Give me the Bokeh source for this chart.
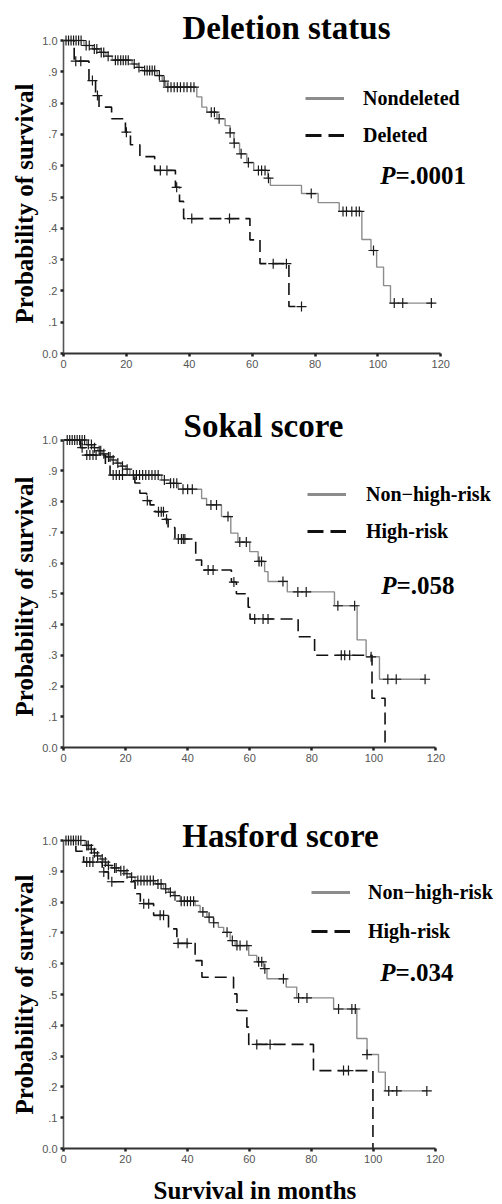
import numpy as np
from bokeh.plotting import figure
from bokeh.models import Range1d, FixedTicker, Legend, LegendItem, Label, Title
from bokeh.layouts import column
from bokeh.embed import file_html
from bokeh.resources import INLINE

# ---------------- data ----------------
x_ticks = [0, 20, 40, 60, 80, 100, 120]
x_tick_labels = ["0", "20", "40", "60", "80", "100", "120"]
y_ticks = [0.0, 0.1, 0.2, 0.3, 0.4, 0.5, 0.6, 0.7, 0.8, 0.9, 1.0]
y_tick_labels = ["0.0", ".1", ".2", ".3", ".4", ".5", ".6", ".7", ".8", ".9", "1.0"]

titles = ["Deletion status", "Sokal score", "Hasford score"]
group_labels = [["Nondeleted", "Deleted"],
                ["Non\u2212high-risk", "High-risk"],
                ["Non\u2212high-risk", "High-risk"]]
p_values = ["=.0001", "=.058", "=.034"]
y_label = "Probability of survival"
x_label = "Survival in months"

# Deletion status - Nondeleted (event times, survival after event)
del_a_t = [0, 6.5, 9.2, 11.5, 13.5, 15.5, 21.8, 23.4, 25.0, 29.8, 31.4, 32.5, 42.4, 44.0, 45.6,
           48.8, 51.4, 53.0, 54.2, 56.0, 58.3, 60.5, 65.0, 65.8, 75.7, 81.0, 87.7, 94.9, 97.8,
           99.6, 101.8, 104.0, 117.5]
del_a_s = [1.0, 0.984, 0.973, 0.962, 0.950, 0.937, 0.925, 0.914, 0.904, 0.888, 0.870, 0.851, 0.820,
           0.787, 0.771, 0.750, 0.728, 0.705, 0.672, 0.638, 0.610, 0.585, 0.560, 0.537, 0.511, 0.482,
           0.454, 0.364, 0.329, 0.276, 0.217, 0.161, 0.161]
del_a_cens = [0.8, 1.6, 2.4, 3.2, 4.0, 4.8, 5.6, 7.2, 8.2, 9.8, 10.6, 12.0, 12.8, 14.2, 16.5, 17.3,
              18.2, 19.0, 19.8, 20.6, 22.5, 24.0, 25.8, 26.6, 27.4, 28.2, 29.0, 30.5, 32.0, 33.2,
              34.2, 35.2, 36.2, 37.2, 38.3, 39.3, 40.5, 41.5, 47.0, 48.0, 49.5, 53.0, 54.3, 56.5,
              58.8, 62.0, 63.0, 64.1, 65.2, 78.8, 88.9, 90.0, 91.7, 93.1, 94.1, 98.6, 105.2, 107.9,
              117.0]
# Deletion status - Deleted
del_b_t = [0, 3.4, 8.1, 10.2, 11.3, 15.3, 19.7, 21.3, 24.3, 29.0, 35.6, 36.9, 38.2, 59.3, 62.5,
           71.7, 75.7]
del_b_s = [1.0, 0.934, 0.872, 0.824, 0.787, 0.750, 0.707, 0.667, 0.629, 0.585, 0.531, 0.486,
           0.431, 0.363, 0.287, 0.150, 0.150]
del_b_cens = [3.9, 5.5, 9.2, 10.8, 20.0, 30.8, 32.9, 36.0, 40.8, 52.8, 66.7, 70.9, 75.7]

# Sokal score - Non-high-risk
sok_a_t = [0, 7.5, 9.5, 11.0, 12.5, 14.0, 15.5, 17.0, 18.5, 20.0, 21.4, 31.6, 34.3, 37.0, 44.5,
           46.1, 50.9, 53.9, 56.2, 60.0, 62.7, 64.8, 65.9, 72.1, 87.3, 94.6, 97.5, 101.8, 116.5]
sok_a_s = [1.0, 0.985, 0.975, 0.965, 0.955, 0.945, 0.935, 0.925, 0.915, 0.905, 0.886, 0.870,
           0.859, 0.840, 0.810, 0.789, 0.751, 0.697, 0.668, 0.637, 0.605, 0.572, 0.540, 0.506,
           0.461, 0.350, 0.295, 0.222, 0.222]
sok_a_cens = [1.2, 2.0, 2.8, 3.6, 4.4, 5.2, 6.0, 6.8, 8.0, 9.0, 10.0, 11.5, 12.0, 13.0, 14.5, 15.0,
              16.0, 17.5, 19.0, 20.5, 22.5, 23.5, 24.5, 25.5, 26.5, 27.5, 28.5, 29.5, 30.5, 32.5,
              34.5, 35.5, 36.5, 38.5, 40.0, 41.5, 47.5, 49.3, 53.0, 56.8, 58.9, 63.0, 63.8, 70.7,
              75.5, 78.2, 88.4, 93.8, 99.1, 104.5, 107.2, 116.5]
# Sokal score - High-risk
sok_b_t = [0, 5.5, 7.0, 13.5, 15.0, 23.0, 24.6, 26.8, 27.9, 29.5, 32.7, 33.7, 35.9, 42.6, 44.5,
           54.1, 55.7, 59.5, 60.1, 75.6, 80.9, 99.4, 103.6]
sok_b_s = [1.0, 0.975, 0.951, 0.920, 0.886, 0.860, 0.827, 0.803, 0.789, 0.767, 0.742, 0.715,
           0.678, 0.610, 0.577, 0.538, 0.500, 0.456, 0.418, 0.360, 0.300, 0.160, 0.0]
sok_b_cens = [6.0, 7.5, 8.5, 9.5, 10.5, 16.0, 17.0, 18.0, 19.0, 27.0, 30.6, 31.5, 32.2, 33.2,
              37.0, 38.0, 38.6, 39.1, 46.6, 48.2, 54.9, 61.6, 64.3, 65.9, 89.5, 90.6, 92.2]

# Hasford score - Non-high-risk
has_a_t = [0, 7.0, 8.6, 9.7, 10.8, 11.9, 13.0, 14.0, 15.6, 17.8, 19.9, 21.5, 23.1, 29.6, 32.3,
           33.9, 35.5, 37.7, 42.5, 44.1, 46.3, 48.4, 50.0, 51.7, 53.8, 55.4, 59.8, 62.4, 64.6,
           65.7, 71.9, 75.3, 87.2, 94.7, 98.0, 101.7, 103.9, 117.3]
has_a_s = [1.0, 0.984, 0.972, 0.960, 0.950, 0.940, 0.930, 0.919, 0.911, 0.902, 0.892, 0.881,
           0.870, 0.859, 0.843, 0.832, 0.821, 0.803, 0.789, 0.768, 0.751, 0.733, 0.718, 0.702,
           0.675, 0.659, 0.627, 0.606, 0.584, 0.551, 0.524, 0.489, 0.453, 0.357, 0.305, 0.248,
           0.187, 0.187]
has_a_cens = [0.8, 1.6, 2.4, 3.2, 4.0, 4.8, 5.6, 7.5, 8.0, 9.0, 10.0, 11.0, 12.5, 13.5, 14.5,
              16.5, 17.0, 18.5, 19.5, 20.5, 22.0, 24.0, 25.0, 26.0, 27.0, 28.0, 29.0, 30.5, 31.5,
              33.0, 34.5, 36.0, 38.0, 39.0, 40.0, 41.0, 42.0, 45.0, 47.0, 48.5, 52.8, 54.5, 56.0,
              57.0, 59.2, 63.0, 64.0, 65.0, 71.0, 75.9, 78.6, 88.8, 93.1, 94.2, 98.0, 105.0,
              107.6, 117.3]
# Hasford score - High-risk
has_b_t = [0, 4.0, 6.5, 12.5, 14.5, 23.1, 24.8, 29.1, 33.9, 36.6, 42.5, 44.7, 54.9, 56.0, 59.2,
           59.8, 80.7, 99.9]
has_b_s = [1.0, 0.965, 0.930, 0.898, 0.866, 0.827, 0.795, 0.757, 0.713, 0.666, 0.610, 0.556,
           0.502, 0.448, 0.394, 0.338, 0.253, 0.0]
has_b_cens = [7.5, 8.5, 9.5, 13.0, 15.6, 25.9, 27.5, 31.2, 32.3, 37.0, 39.9, 62.4, 66.7, 90.4,
              92.0]

# ---------------- styling ----------------
SERIF = "Liberation Serif"
SANS = "Liberation Sans"
GRAY = "#8c8c8c"
BLACK = "#111111"
FIG_W = 502


def level_at(step_t, step_s, ct):
    idx = np.searchsorted(np.asarray(step_t), np.asarray(ct), side="right") - 1
    return np.asarray(step_s)[idx]


def make_panel(title, labels, pval, a_t, a_s, a_c, b_t, b_s, b_c, geo, xlabel=None):
    # frame spans from the y axis to the right edge and up to the top edge;
    # the axes themselves are bounded to 0..120 and 0..1
    frame_w = FIG_W - geo["l"]
    frame_h = geo["h"] - geo["b"]
    x_end = x_ticks[-1] * frame_w / geo["px120"]
    y_end = 1.0 * frame_h / geo["px1"]
    p = figure(width=FIG_W, height=geo["h"], output_backend="svg", toolbar_location=None,
               x_range=Range1d(0, x_end), y_range=Range1d(0, y_end),
               min_border_left=geo["l"], min_border_right=0,
               min_border_top=0, min_border_bottom=geo["b"],
               background_fill_color="white", border_fill_color="white")
    p.outline_line_color = None
    p.xgrid.visible = False
    p.ygrid.visible = False

    # axes
    p.yaxis.ticker = FixedTicker(ticks=y_ticks)
    p.yaxis.major_label_overrides = dict(zip(y_ticks, y_tick_labels))
    p.yaxis.bounds = (y_ticks[0], y_ticks[-1])
    p.xaxis.ticker = FixedTicker(ticks=x_ticks)
    p.xaxis.major_label_overrides = dict(zip(x_ticks, x_tick_labels))
    p.xaxis.bounds = (x_ticks[0], x_ticks[-1])
    for ax in (p.xaxis, p.yaxis):
        ax.minor_tick_line_color = None
        ax.major_tick_in = 0
        ax.major_tick_out = 3
        ax.major_tick_line_width = 2.5
        ax.major_tick_line_color = "#222222"
        ax.major_label_text_font = SANS
        ax.major_label_text_font_size = "11px"
        ax.major_label_text_color = "#555555"
        ax.major_label_standoff = 3
    p.yaxis.axis_line_color = "#555555"
    p.yaxis.axis_line_width = 1.6
    p.xaxis.axis_line_color = "#333333"
    p.xaxis.axis_line_width = 2

    # y axis title (placed as a side title so it can be offset along the axis)
    p.add_layout(Title(text=y_label, align="left", vertical_align="bottom",
                       offset=geo["yoff"], standoff=4, text_font=SERIF,
                       text_font_style="bold", text_font_size="25px", text_color="black"),
                 "left")
    if xlabel:
        # small spacer between the tick labels and the axis title
        p.add_layout(Title(text=" ", standoff=6, text_font_size="1px"), "below")
        p.add_layout(Title(text=xlabel, align="left", vertical_align="bottom",
                           offset=90, standoff=0, text_font=SERIF,
                           text_font_style="bold", text_font_size="25px", text_color="black"),
                     "below")

    # curves
    p.step(x=a_t, y=a_s, mode="after", line_color=GRAY, line_width=1.4)
    p.step(x=b_t, y=b_s, mode="after", line_color=BLACK, line_width=1.6, line_dash="12 6")
    p.scatter(x=a_c, y=level_at(a_t, a_s, a_c), marker="cross", size=10,
              line_color="#1a1a1a", line_width=1.2)
    p.scatter(x=b_c, y=level_at(b_t, b_s, b_c), marker="cross", size=10,
              line_color="#1a1a1a", line_width=1.2)

    # legend: hidden duplicates of the curves with thicker lines give the samples
    la = p.step(x=a_t, y=a_s, mode="after", line_color=GRAY, line_width=3, visible=False)
    lb = p.step(x=b_t, y=b_s, mode="after", line_color=BLACK, line_width=3,
                line_dash="16 7", visible=False)
    leg = Legend(items=[LegendItem(label=labels[0], renderers=[la]),
                        LegendItem(label=labels[1], renderers=[lb])],
                 location=geo["leg"], orientation="vertical")
    leg.border_line_color = None
    leg.background_fill_alpha = 0
    leg.padding = 0
    leg.margin = 0
    leg.spacing = geo["sp"]
    leg.glyph_width = 39
    leg.glyph_height = 24
    leg.label_height = 24
    leg.label_standoff = geo["so"]
    leg.label_text_font = SERIF
    leg.label_text_font_style = "bold"
    leg.label_text_font_size = "20px"
    leg.label_text_color = "black"
    p.add_layout(leg)

    # title
    p.add_layout(Label(x=geo["title"][0], y=geo["title"][1], x_units="screen", y_units="screen",
                       text=title, text_align="center", text_baseline="middle",
                       text_font=SERIF, text_font_style="bold", text_font_size="33px",
                       text_color="black"))
    # P value
    px, py = geo["p"]
    p.add_layout(Label(x=px, y=py, x_units="screen", y_units="screen", text="P",
                       text_align="right", text_baseline="middle", text_font=SERIF,
                       text_font_style="bold italic", text_font_size="25px", text_color="black"))
    p.add_layout(Label(x=px, y=py, x_units="screen", y_units="screen", text=pval,
                       text_align="left", text_baseline="middle", text_font=SERIF,
                       text_font_style="bold", text_font_size="25px", text_color="black"))
    return p


geo1 = dict(h=396, l=61, b=43, px120=379.0, px1=313.0, leg=(242, 206), sp=13, so=19,
            title=(223, 326), p=(332, 178), yoff=30)
geo2 = dict(h=400, l=62, b=49, px120=373.3, px1=307.5, leg=(244, 204), sp=13, so=20,
            title=(200, 322), p=(333, 162), yoff=31)
geo3 = dict(h=408, l=63, b=56, px120=371.7, px1=308.0, leg=(248, 205), sp=15, so=18,
            title=(217, 313), p=(332, 176), yoff=34)

p1 = make_panel(titles[0], group_labels[0], p_values[0], del_a_t, del_a_s, del_a_cens,
                del_b_t, del_b_s, del_b_cens, geo1)
p2 = make_panel(titles[1], group_labels[1], p_values[1], sok_a_t, sok_a_s, sok_a_cens,
                sok_b_t, sok_b_s, sok_b_cens, geo2)
p3 = make_panel(titles[2], group_labels[2], p_values[2], has_a_t, has_a_s, has_a_cens,
                has_b_t, has_b_s, has_b_cens, geo3, xlabel=x_label)

layout = column(p1, p2, p3, spacing=0)
open("out.html", "w").write(file_html(layout, INLINE))
